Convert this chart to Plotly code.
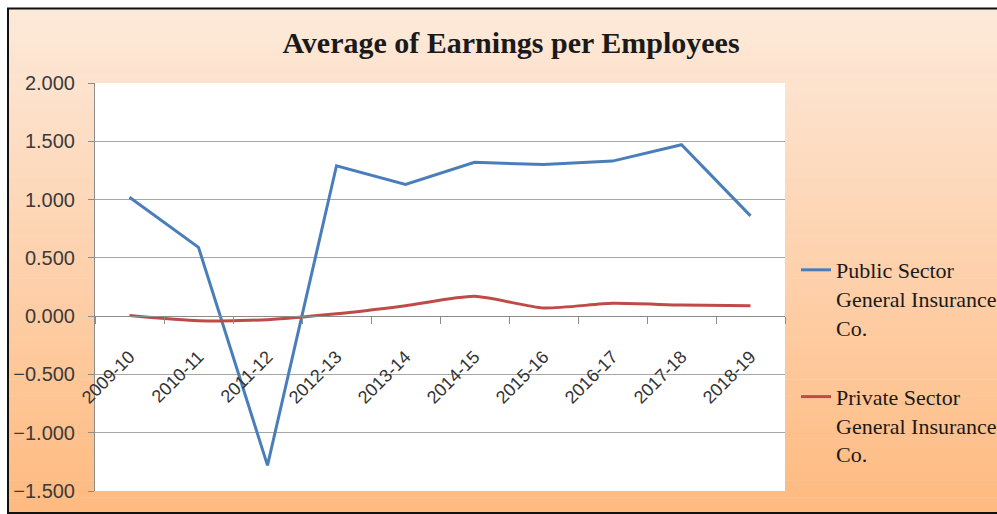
import plotly.graph_objects as go

years = ["2009-10", "2010-11", "2011-12", "2012-13", "2013-14",
         "2014-15", "2015-16", "2016-17", "2017-18", "2018-19"]
public_sector = [1.02, 0.59, -1.28, 1.29, 1.13, 1.32, 1.30, 1.33, 1.47, 0.86]
private_sector = [0.005, -0.04, -0.03, 0.02, 0.09, 0.17, 0.07, 0.11, 0.095, 0.09]
y_ticks = [-1.5, -1.0, -0.5, 0.0, 0.5, 1.0, 1.5, 2.0]
series_names = ["Public Sector<br>General Insurance<br>Co.",
                "Private Sector<br>General Insurance<br>Co."]
title_text = "Average of Earnings per Employees"

W, H = 997, 514
ML, MR, MT, MB = 95, 212, 83, 23
PW, PH = W - ML - MR, H - MT - MB
YMIN, YMAX = -1.5, 2.0


def px_x(px):
    return (px - ML) / PW


def px_y(py):
    return (H - MB - py) / PH


fig = go.Figure()
fig.add_trace(go.Scatter(x=years, y=public_sector, mode="lines", name=series_names[0],
                         line=dict(color="#4A7EBB", width=3), legendgroup="a"))
fig.add_trace(go.Scatter(x=years, y=private_sector, mode="lines", name=series_names[1],
                         line=dict(color="#BE4B48", width=3, shape="spline", smoothing=0.6),
                         legendgroup="b"))

# background gradient (chart area)
shapes = []
top_c = (253, 233, 218)
bot_c = (254, 186, 128)
n = 60
y0p, y1p = 9, 514
for i in range(n):
    t = i / (n - 1)
    c = tuple(int(round(top_c[k] + (bot_c[k] - top_c[k]) * t)) for k in range(3))
    ya = y0p + (y1p - y0p) * i / n
    yb = y0p + (y1p - y0p) * (i + 1) / n + 0.5
    shapes.append(dict(type="rect", xref="paper", yref="paper", layer="below",
                       x0=px_x(9), x1=px_x(1000), y0=px_y(ya), y1=px_y(yb),
                       fillcolor="rgb(%d,%d,%d)" % c, line=dict(width=0)))
# white plot area
shapes.append(dict(type="rect", xref="paper", yref="paper", layer="below",
                   x0=0, x1=1, y0=0, y1=1, fillcolor="white", line=dict(width=0)))
# outer frame
shapes.append(dict(type="rect", xref="paper", yref="paper", layer="above",
                   x0=px_x(8), x1=px_x(1003), y0=px_y(8.5), y1=px_y(513),
                   line=dict(color="#111111", width=2), fillcolor="rgba(0,0,0,0)"))

fig.update_layout(
    width=W, height=H,
    margin=dict(l=ML, r=MR, t=MT, b=MB, autoexpand=False),
    paper_bgcolor="white",
    plot_bgcolor="white",
    shapes=shapes,
    showlegend=True,
    title=dict(text="<b>" + title_text + "</b>", xref="container", yref="container",
               x=511 / W, y=1 - 42 / H, xanchor="center", yanchor="middle",
               font=dict(family="Liberation Serif", size=30, color="#1a1a1a")),
    legend=dict(x=px_x(796), y=px_y(249), xanchor="left", yanchor="top",
                bgcolor="rgba(0,0,0,0)", borderwidth=0, valign="top",
                tracegroupgap=38,
                font=dict(family="Liberation Serif", size=22, color="#1a1a1a")),
    xaxis=dict(
        type="category",
        anchor="free",
        position=(0 - YMIN) / (YMAX - YMIN),
        showgrid=False, zeroline=False,
        showline=True, linecolor="#8c8c8c", linewidth=1,
        ticks="outside", tickson="boundaries", ticklen=7, tickcolor="#8c8c8c",
        tickangle=-45, ticklabelstandoff=22,
        tickfont=dict(family="Liberation Sans", size=18, color="#333333"),
        range=[-0.5, len(years) - 0.5],
        automargin=False,
    ),
    yaxis=dict(
        range=[YMIN, YMAX], tickvals=y_ticks, tickformat=".3f",
        showgrid=True, gridcolor="#a6a6a6", gridwidth=1,
        zeroline=False,
        showline=True, linecolor="#8c8c8c", linewidth=1,
        ticks="outside", ticklen=6, tickcolor="#8c8c8c",
        ticklabelstandoff=9,
        tickfont=dict(family="Liberation Sans", size=20, color="#3a3a3a"),
        automargin=False,
    ),
)

fig.write_html("out.html")
